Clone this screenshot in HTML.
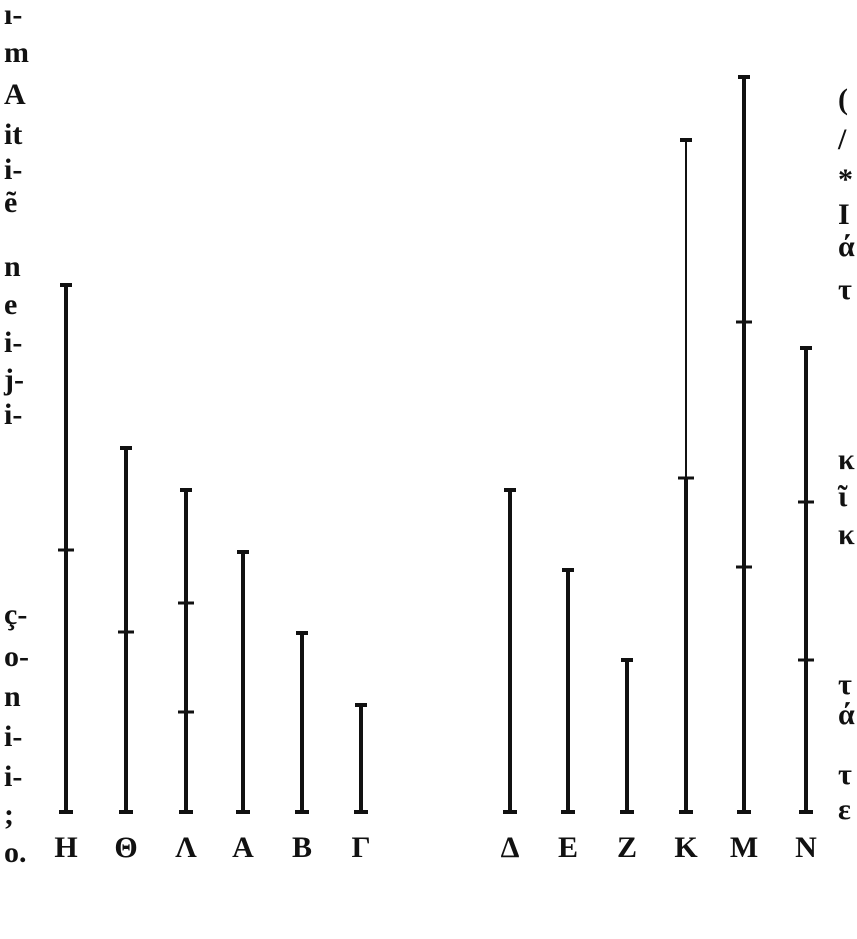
<!DOCTYPE html>
<html><head><meta charset="utf-8">
<style>
html,body{margin:0;padding:0;background:#fff;}
body{width:857px;height:939px;overflow:hidden;position:relative;font-family:"Liberation Serif",serif;}
.m{position:absolute;font-weight:bold;font-size:30px;color:#111;line-height:1;}
</style></head>
<body>
<svg id="fig" width="857" height="939" style="position:absolute;left:0;top:0"></svg>
<div id="margins"></div>
<script>
// Data: bar heights (in baseline-relative units) and inner tick positions
const labels = ["Η","Θ","Λ","Α","Β","Γ","Δ","Ε","Ζ","Κ","Μ","Ν"];
const xPositions = [66,126,186,243,302,361,510,568,627,686,744,806];
const heights = [527,364,322,260,179,107,322,242,152,672,735,464];
const innerTicks = [[262],[180],[209,100],[],[],[],[],[],[],[334],[490,245],[310,152]];
const thinTopFrom = [null,null,null,null,null,null,null,null,null,334,null,null];

const base = 812;
function y(v){ return base - v; }
const svg = document.getElementById('fig');
const NS = "http://www.w3.org/2000/svg";
function mk(tag, attrs){ const e=document.createElementNS(NS,tag); for(const k in attrs) e.setAttribute(k,attrs[k]); svg.appendChild(e); return e; }

labels.forEach((lab,i)=>{
  const x = xPositions[i];
  const top = y(heights[i]);
  if (thinTopFrom[i]!==null){
    const l1 = mk('line',{x1:x,y1:y(0),x2:x,y2:y(thinTopFrom[i]),stroke:'#111','stroke-width':4});
    
    
    const l2 = mk('line',{x1:x,y1:y(thinTopFrom[i]),x2:x,y2:top,stroke:'#111','stroke-width':2});
    
    
  } else {
    const l = mk('line',{x1:x,y1:y(0),x2:x,y2:top,stroke:'#111','stroke-width':4});
    
    
  }
  const c1 = mk('line',{x1:x-6,y1:top,x2:x+6,y2:top,stroke:'#111','stroke-width':4});
  
  
  const c2 = mk('line',{x1:x-7,y1:y(0),x2:x+7,y2:y(0),stroke:'#111','stroke-width':4});
  
  
  innerTicks[i].forEach(t=>{
    const tk = mk('line',{x1:x-8,y1:y(t),x2:x+8,y2:y(t),stroke:'#111','stroke-width':3});
    
    
  });
  const tx = mk('text',{x:x,y:857,'text-anchor':'middle','font-size':30,'font-weight':'bold','font-family':'Liberation Serif, serif',fill:'#111'});
  tx.textContent = lab;
  
  
});

const leftFrags = [["ı-",0],["m",38],["A",80],["it",120],["i-",155],["ẽ",188],["n",252],["e",290],["i-",328],["j-",365],["i-",400],["ç-",600],["o-",642],["n",682],["i-",722],["i-",762],[";",800],["o.",838]];
const rightFrags = [["(",85],["/",125],["*",165],["I",200],["ά",232],["τ",275],["κ",445],["ῖ",482],["κ",520],["τ",670],["ά",700],["τ",760],["ε",795]];
const mg = document.getElementById('margins');
leftFrags.forEach(f=>{
  const d=document.createElement('div'); d.className='m'; d.textContent=f[0];
  d.style.left='4px'; d.style.top=f[1]+'px';
  
  
  mg.appendChild(d);
});
rightFrags.forEach(f=>{
  const d=document.createElement('div'); d.className='m'; d.textContent=f[0];
  d.style.left='838px'; d.style.top=f[1]+'px';
  
  
  mg.appendChild(d);
});
</script>
</body></html>
